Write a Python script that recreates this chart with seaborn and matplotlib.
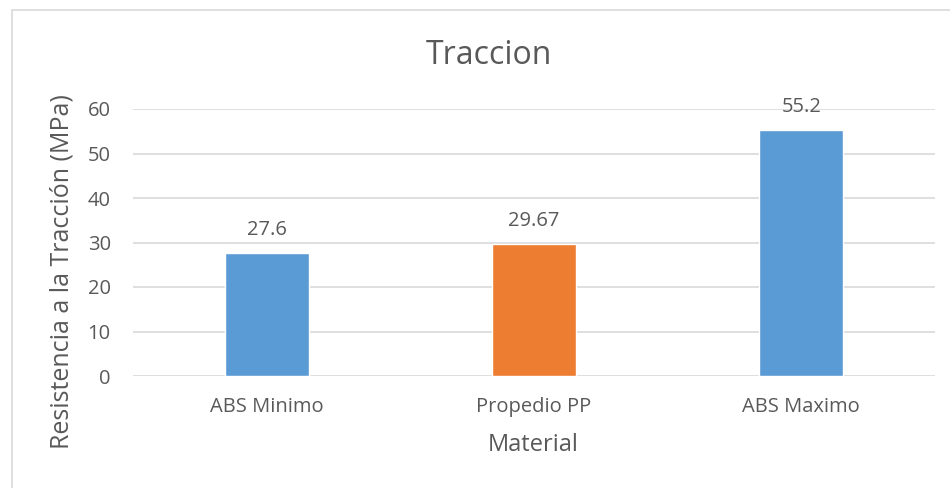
import matplotlib
matplotlib.use("Agg")
import matplotlib.pyplot as plt
import seaborn as sns
import pandas as pd
from matplotlib.patches import Rectangle

categories = ["ABS Minimo", "Propedio PP", "ABS Maximo"]
values = [27.6, 29.67, 55.2]
labels = ["27.6", "29.67", "55.2"]
colors = ["#5B9BD5", "#ED7D31", "#5B9BD5"]
yticks = [0, 10, 20, 30, 40, 50, 60]

sns.set_theme(style="white")
plt.rcParams['font.family'] = ['Open Sans', 'DejaVu Sans']
txt = "#595959"

df = pd.DataFrame({"Material": categories, "Valor": values})

W, H = 950, 488
fig = plt.figure(figsize=(9.5, 4.88), dpi=100)
ax = fig.add_axes([133/W, 1-376/H, (935-133)/W, (376-109)/H])

sns.barplot(data=df, x="Material", y="Valor", hue="Material", palette=colors,
            width=0.315, ax=ax, legend=False, saturation=1)

ax.set_ylim(0, 60)
ax.set_xlim(-0.5, 2.5)
ax.set_yticks(yticks)
ax.yaxis.grid(True, color="#D9D9D9", linewidth=1.2)
ax.set_axisbelow(True)
for s in ax.spines.values():
    s.set_visible(False)
ax.tick_params(axis='both', length=0, colors=txt, labelsize=14.5)
ax.tick_params(axis='x', pad=15)
ax.tick_params(axis='y', pad=16)

for i, (v, l) in enumerate(zip(values, labels)):
    ax.annotate(l, (i, v), xytext=(0, 13), textcoords="offset points",
                ha="center", va="baseline", color=txt, fontsize=14.5)

ax.set_xlabel("")
ax.set_ylabel("")
fig.text(533/W, 1-445/H, "Material", ha="center", va="center", color=txt, fontsize=17)
fig.text(62/W, 1-272/H, "Resistencia a la Tracción (MPa)", ha="center", va="center",
         rotation=90, color=txt, fontsize=18)
fig.text(489/W, 1-55/H, "Traccion", ha="center", va="center", color=txt, fontsize=23)

fig.patches.append(Rectangle((12/W, -0.1), 1.2, 1-10/H+0.1, transform=fig.transFigure,
                             fill=False, edgecolor="#D9D9D9", linewidth=1.2))

fig.savefig("out.png", dpi=100)
